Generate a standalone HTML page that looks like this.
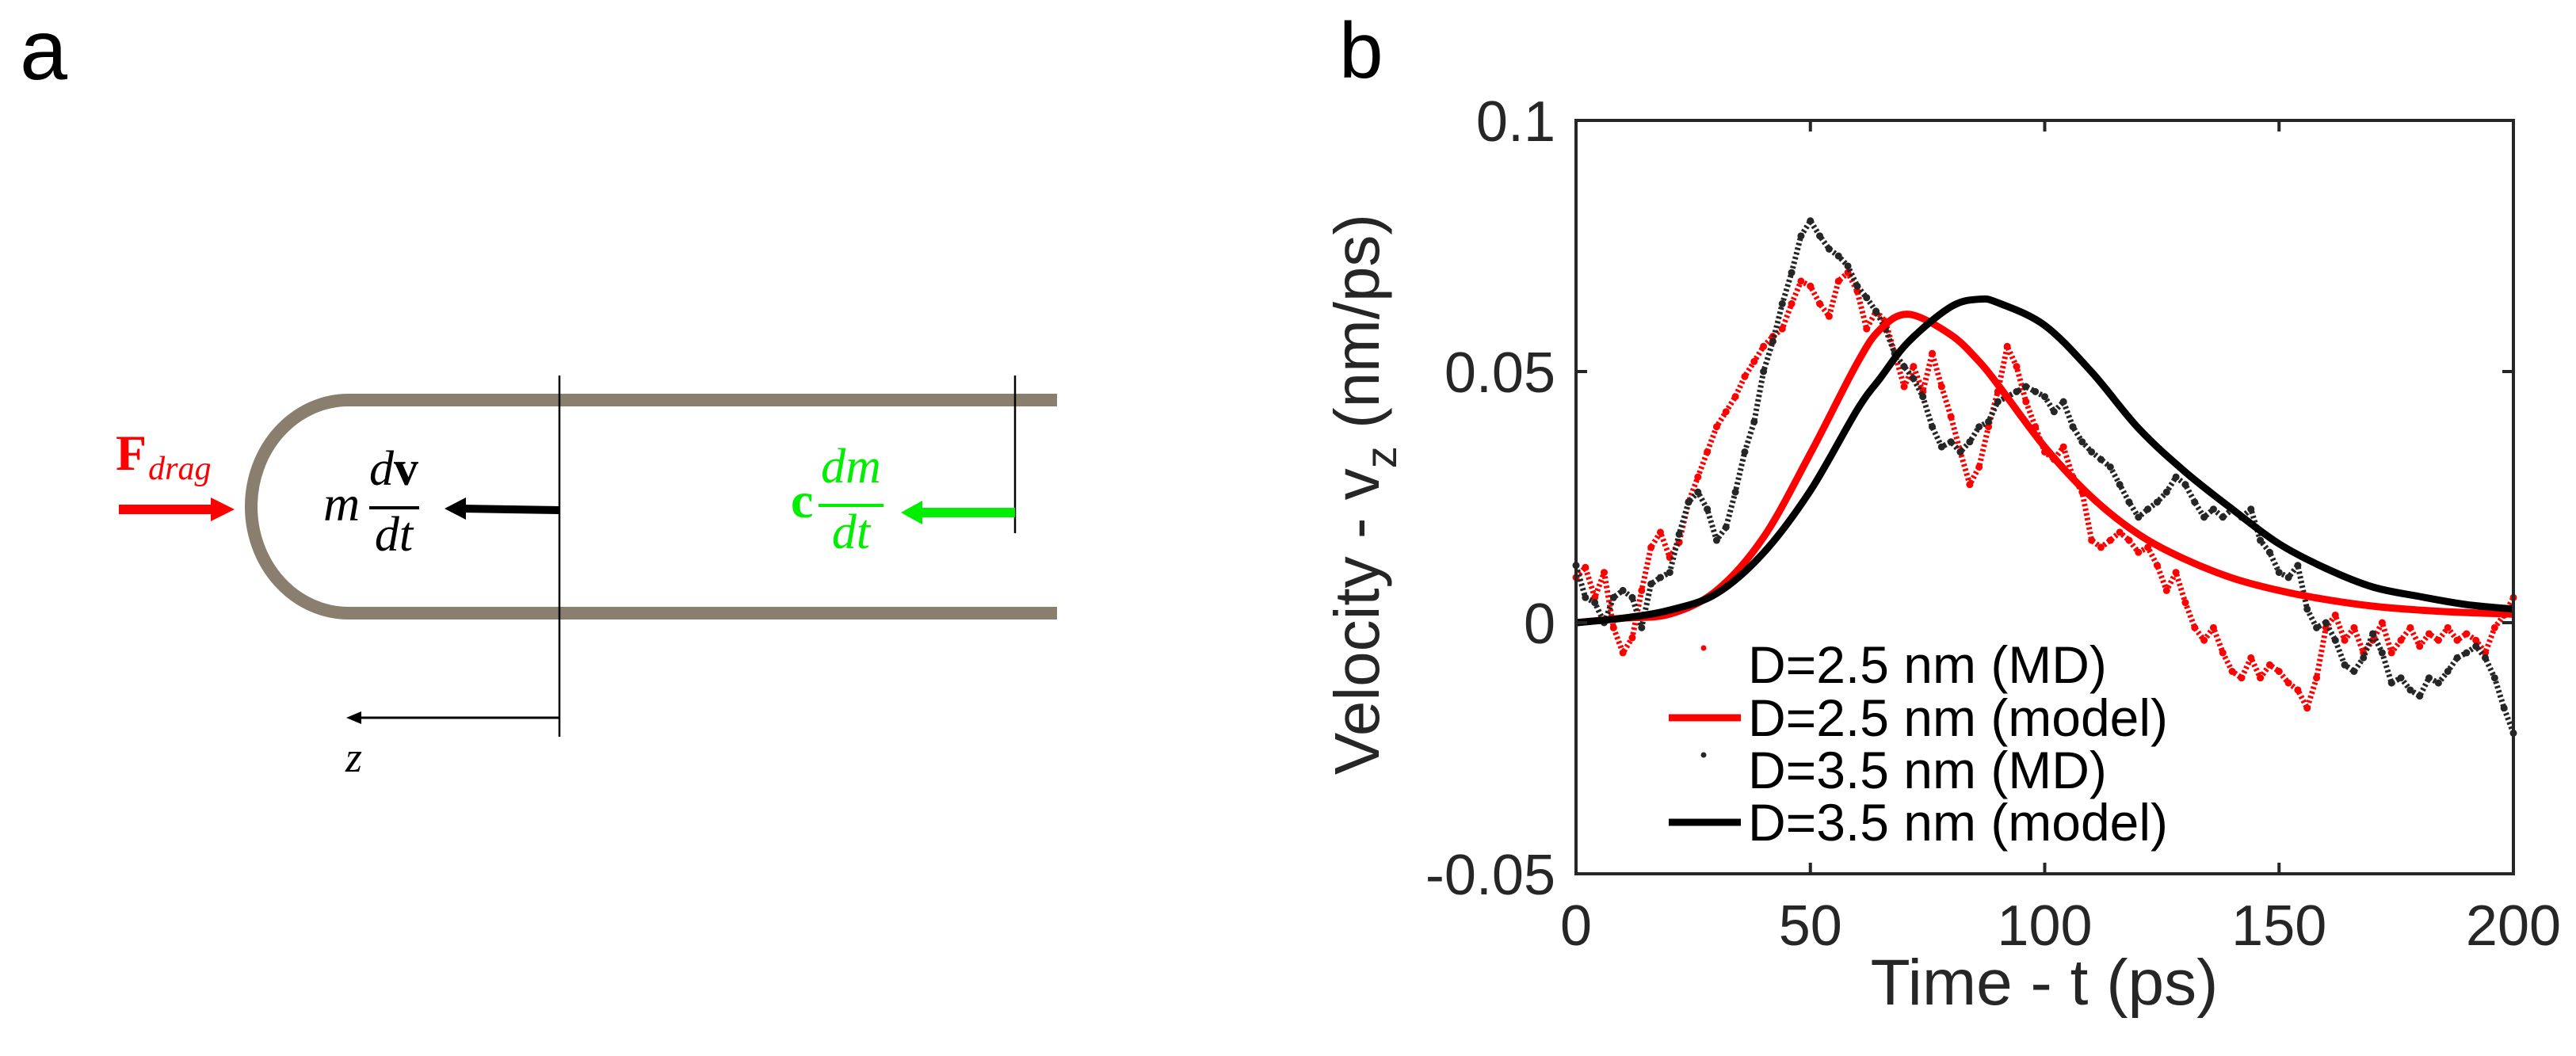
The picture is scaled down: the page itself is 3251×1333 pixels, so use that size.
<!DOCTYPE html>
<html><head><meta charset="utf-8">
<style>
html,body{margin:0;padding:0;background:#fff;}
svg{display:block;}
text{font-family:"Liberation Sans",sans-serif;}
.serif{font-family:"Liberation Serif",serif;}
</style></head>
<body>
<svg id="fig" width="3251" height="1333" viewBox="0 0 3251 1333" xmlns="http://www.w3.org/2000/svg">
  <g>
    <text x="25" y="100" font-size="108" fill="#000">a</text>
    <path d="M1334 505 L440 505 A123 134.5 0 0 0 440 774 L1334 774" fill="none" stroke="#8a7f6f" stroke-width="16"/>
    <line x1="706" y1="474" x2="706" y2="930" stroke="#000" stroke-width="2.5"/>
    <line x1="1281" y1="474" x2="1281" y2="673" stroke="#000" stroke-width="2.5"/>
    <g>
      <rect x="150" y="637" width="120" height="12" fill="#ff0000"/>
      <polygon points="266,628 296,643 266,658" fill="#ff0000"/>
    </g>
    <text class="serif" x="146" y="593" font-size="64" font-weight="bold" fill="#ff0000">F<tspan font-size="42" font-style="italic" font-weight="normal" dx="2" dy="12">drag</tspan></text>
    <g>
      <polygon points="584,637 706,639 706,649 584,647" fill="#000"/>
      <polygon points="561,642 588,628 588,656" fill="#000"/>
    </g>
    <g>
      <text class="serif" x="408" y="657" font-size="64" font-style="italic" fill="#000">m</text>
      <text class="serif" x="497" y="612" font-size="62" text-anchor="middle" fill="#000"><tspan font-style="italic">d</tspan><tspan font-weight="bold">v</tspan></text>
      <rect x="466" y="639" width="63" height="4" fill="#000"/>
      <text class="serif" x="497" y="695" font-size="62" font-style="italic" text-anchor="middle" fill="#000">dt</text>
    </g>
    <g>
      <rect x="1160" y="641" width="121" height="12" fill="#00ee00"/>
      <polygon points="1137,647 1164,632 1164,662" fill="#00ee00"/>
    </g>
    <g>
      <text class="serif" x="998" y="653" font-size="64" font-weight="bold" fill="#00ee00">c</text>
      <text class="serif" x="1074" y="609" font-size="62" font-style="italic" text-anchor="middle" fill="#00ee00">dm</text>
      <rect x="1033" y="636" width="82" height="4" fill="#00ee00"/>
      <text class="serif" x="1074" y="692" font-size="62" font-style="italic" text-anchor="middle" fill="#00ee00">dt</text>
    </g>
    <g>
      <line x1="706" y1="906" x2="450" y2="906" stroke="#000" stroke-width="3"/>
      <polygon points="437,906 456,898 456,914" fill="#000"/>
    </g>
    <text class="serif" x="436" y="974" font-size="54" font-style="italic" fill="#000">z</text>
  </g>

  <g id="panelB">
    <text x="1690" y="98" font-size="100" fill="#000">b</text>
    <g id="marks"></g>
    <rect x="1989" y="152" width="1183" height="951" fill="none" stroke="#262626" stroke-width="4"/>
    <g id="ticks"></g>
    <text x="2580" y="1268" font-size="82" text-anchor="middle" fill="#262626">Time - t (ps)</text>
    <text transform="translate(1740,624) rotate(-90)" font-size="80" text-anchor="middle" fill="#262626">Velocity - v<tspan font-size="56" dy="22">z</tspan><tspan dy="-22"> (nm/ps)</tspan></text>
    <g>
      <g>
        <circle cx="2150" cy="818" r="3.5" fill="#ff0000"/>
        <text x="2206" y="862" font-size="66" fill="#000">D=2.5 nm (MD)</text>
      </g>
      <g>
        <line x1="2106" y1="906" x2="2197" y2="906" stroke="#ff0000" stroke-width="9"/>
        <text x="2206" y="929" font-size="66" fill="#000">D=2.5 nm (model)</text>
      </g>
      <g>
        <circle cx="2150" cy="953" r="3.5" fill="#262626"/>
        <text x="2206" y="995" font-size="66" fill="#000">D=3.5 nm (MD)</text>
      </g>
      <g>
        <line x1="2106" y1="1038" x2="2197" y2="1038" stroke="#000" stroke-width="9"/>
        <text x="2206" y="1061" font-size="66" fill="#000">D=3.5 nm (model)</text>
      </g>
    </g>
  </g>
</svg>
<script>
const xTicks = [0, 50, 100, 150, 200];
const xTickLabels = ["0", "50", "100", "150", "200"];
const yTicks = [0.1, 0.05, 0, -0.05];
const yTickLabels = ["0.1", "0.05", "0", "-0.05"];

const modelTimes = [0,10,20,30,40,50,60,65,71,80,86,90,100,110,120,130,140,150,160,170,180,190,200];
const modelRed = [0,0.0009,0.0017,0.0064,0.017,0.0337,0.0517,0.0585,0.0614,0.0573,0.052,0.0474,0.035,0.025,0.0176,0.0126,0.0089,0.0064,0.0046,0.0033,0.0025,0.002,0.0017];
const modelBlack = [0,0.0009,0.0025,0.0058,0.0139,0.0263,0.0424,0.0488,0.0560,0.0629,0.0644,0.0637,0.0592,0.0499,0.0387,0.030,0.0226,0.0157,0.0108,0.0071,0.0052,0.0036,0.0027];

const mdTimes = [];
for (let t = 0; t <= 200; t += 2) mdTimes.push(t);
const mdRed = [0.009,0.011,0.005,0.010,-0.001,-0.006,-0.003,0.0064,0.015,0.018,0.013,0.016,0.024,0.029,0.034,0.039,0.042,0.045,0.049,0.052,0.055,0.057,0.0585,0.0635,0.068,0.067,0.0635,0.061,0.068,0.0697,0.066,0.0585,0.062,0.060,0.0536,0.047,0.051,0.046,0.0536,0.047,0.041,0.034,0.0275,0.031,0.039,0.046,0.055,0.051,0.044,0.039,0.034,0.0325,0.035,0.029,0.026,0.0164,0.015,0.0164,0.018,0.0164,0.014,0.015,0.0114,0.0064,0.010,0.004,-0.001,-0.0035,-0.001,-0.006,-0.0097,-0.011,-0.007,-0.011,-0.0084,-0.0097,-0.012,-0.0134,-0.017,-0.011,-0.001,0.0015,-0.0035,-0.001,-0.006,-0.0035,0,-0.006,-0.0035,-0.001,-0.0047,-0.0022,-0.0035,-0.001,-0.0035,-0.0022,-0.0035,-0.006,-0.001,0.0015,0.005];
const mdBlack = [0.0114,0.005,0.004,0,0.005,0.0064,0.005,-0.001,0.0077,0.009,0.010,0.0176,0.024,0.026,0.0226,0.0164,0.019,0.026,0.034,0.040,0.050,0.056,0.0635,0.0697,0.077,0.080,0.077,0.0744,0.073,0.071,0.067,0.0647,0.062,0.0585,0.0536,0.051,0.0486,0.045,0.039,0.035,0.036,0.034,0.036,0.039,0.040,0.044,0.045,0.046,0.047,0.046,0.045,0.042,0.044,0.039,0.036,0.034,0.0325,0.031,0.0275,0.024,0.021,0.0226,0.024,0.026,0.029,0.0275,0.024,0.021,0.0226,0.021,0.0226,0.021,0.0226,0.0164,0.014,0.010,0.009,0.0114,0.0027,-0.001,0,-0.0035,-0.0084,-0.0097,-0.007,-0.0022,-0.006,-0.012,-0.011,-0.0134,-0.0146,-0.011,-0.012,-0.0097,-0.007,-0.006,-0.0047,-0.007,-0.011,-0.017,-0.022];

const X0 = 1989, X1 = 3172, Y0 = 1103, Y1 = 152;
function xs(t) { return X0 + t / 200 * (X1 - X0); }
function ys(v) { return Y0 - (v + 0.05) / 0.15 * (Y0 - Y1); }
const NS = "http://www.w3.org/2000/svg";
const marks = document.getElementById('marks');
const ticks = document.getElementById('ticks');

function mk(tag, attrs, parent) {
  const e = document.createElementNS(NS, tag);
  for (const k in attrs) e.setAttribute(k, attrs[k]);
  parent.appendChild(e);
  return e;
}

xTicks.forEach((t, i) => {
  const x = xs(t);
  const a = mk('line', {x1: x, y1: Y0, x2: x, y2: Y0 - 14, stroke: '#262626', 'stroke-width': 4}, ticks);
  
  
  const b = mk('line', {x1: x, y1: Y1, x2: x, y2: Y1 + 14, stroke: '#262626', 'stroke-width': 4}, ticks);
  
  
  const l = mk('text', {x: x, y: Y0 + 90, 'font-size': 72, 'text-anchor': 'middle', fill: '#262626'}, ticks);
  l.textContent = xTickLabels[i];
  
  
});
yTicks.forEach((v, i) => {
  const y = ys(v);
  const a = mk('line', {x1: X0, y1: y, x2: X0 + 14, y2: y, stroke: '#262626', 'stroke-width': 4}, ticks);
  
  
  const b = mk('line', {x1: X1, y1: y, x2: X1 - 14, y2: y, stroke: '#262626', 'stroke-width': 4}, ticks);
  
  
  const l = mk('text', {x: 1963, y: y + 26, 'font-size': 72, 'text-anchor': 'end', fill: '#262626'}, ticks);
  l.textContent = yTickLabels[i];
  
  
});

function drawMD(vals, color, name) {
  const g = mk('g', {}, marks);
  
  
  const pts = mdTimes.map((t, i) => xs(t).toFixed(1) + ',' + ys(vals[i]).toFixed(1)).join(' ');
  mk('polyline', {points: pts, fill: 'none', stroke: color, 'stroke-width': 7, 'stroke-dasharray': '3 3', 'stroke-linejoin': 'round'}, g);
  mdTimes.forEach((t, i) => {
    const c = mk('circle', {cx: xs(t), cy: ys(vals[i]), r: 4.5, fill: color}, g);
    
    
  });
}
function drawModel(vals, color, name) {
  const P = modelTimes.map((t, i) => [xs(t), ys(vals[i])]);
  let d = 'M' + P[0][0].toFixed(1) + ',' + P[0][1].toFixed(1);
  for (let i = 0; i < P.length - 1; i++) {
    const p0 = P[Math.max(0, i - 1)], p1 = P[i], p2 = P[i + 1], p3 = P[Math.min(P.length - 1, i + 2)];
    const c1 = [p1[0] + (p2[0] - p0[0]) / 6, p1[1] + (p2[1] - p0[1]) / 6];
    const c2 = [p2[0] - (p3[0] - p1[0]) / 6, p2[1] - (p3[1] - p1[1]) / 6];
    d += ' C' + c1[0].toFixed(1) + ',' + c1[1].toFixed(1) + ' ' + c2[0].toFixed(1) + ',' + c2[1].toFixed(1) + ' ' + p2[0].toFixed(1) + ',' + p2[1].toFixed(1);
  }
  const p = mk('path', {d: d, fill: 'none', stroke: color, 'stroke-width': 9}, marks);
  
  
}
drawMD(mdRed, '#ff0000', 'md-series-2-5nm');
drawMD(mdBlack, '#262626', 'md-series-3-5nm');
drawModel(modelRed, '#ff0000', 'model-line-2-5nm');
drawModel(modelBlack, '#000000', 'model-line-3-5nm');
</script>
</body></html>
